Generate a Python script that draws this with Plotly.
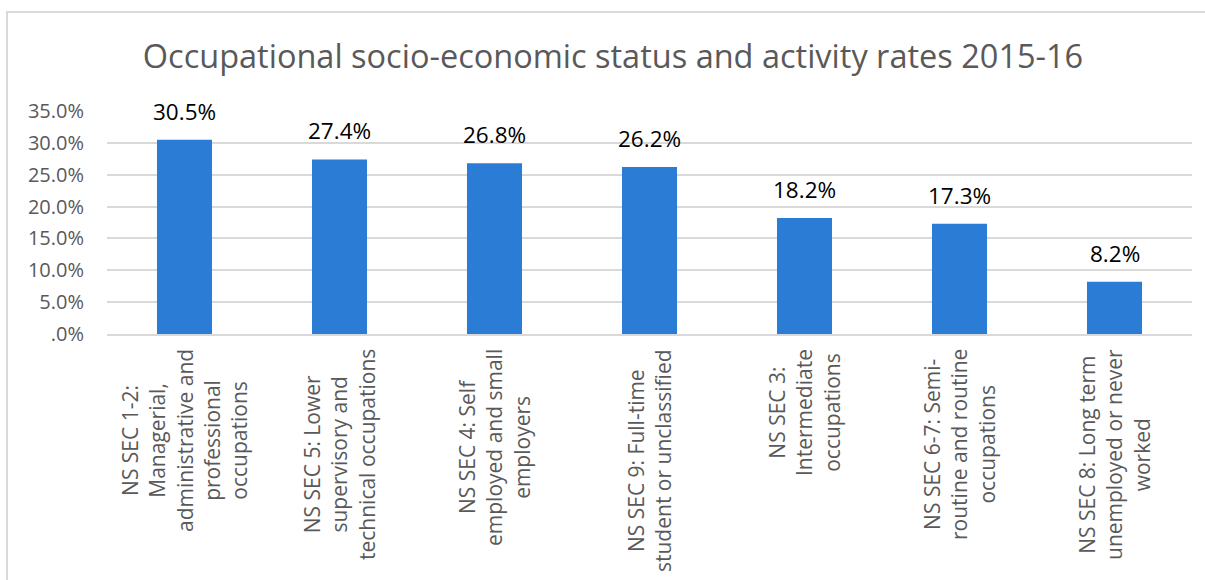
import plotly.graph_objects as go

# Category labels (line breaks as shown on the axis)
categories = [
    "NS SEC 1-2:<br>Managerial,<br>administrative and<br>professional<br>occupations",
    "NS SEC 5: Lower<br>supervisory and<br>technical occupations",
    "NS SEC 4: Self<br>employed and small<br>employers",
    "NS SEC 9: Full-time<br>student or unclassified",
    "NS SEC 3:<br>Intermediate<br>occupations",
    "NS SEC 6-7: Semi-<br>routine and routine<br>occupations",
    "NS SEC 8: Long term<br>unemployed or never<br>worked",
]
activity_rate = [30.5, 27.4, 26.8, 26.2, 18.2, 17.3, 8.2]
value_labels = ["30.5%", "27.4%", "26.8%", "26.2%", "18.2%", "17.3%", "8.2%"]

y_tick_vals = [0, 5, 10, 15, 20, 25, 30, 35]
y_tick_text = [".0%", "5.0%", "10.0%", "15.0%", "20.0%", "25.0%", "30.0%", "35.0%"]

title_text = "Occupational socio-economic status and activity rates 2015-16"

FONT = "Open Sans"
W, H = 1205, 580
L, R, T, B = 107, 13, 111, 246
plot_w = W - L - R
plot_h = H - T - B

x_idx = list(range(len(categories)))

fig = go.Figure()
fig.add_trace(go.Bar(
    x=x_idx,
    y=activity_rate,
    marker=dict(color="#2B7CD5", line=dict(width=0)),
    width=0.355,
    hoverinfo="skip",
))

annotations = []
# value labels above the bars
for i, (v, lab) in enumerate(zip(activity_rate, value_labels)):
    annotations.append(dict(
        x=i, y=v, xref="x", yref="y", text=lab, showarrow=False,
        yanchor="bottom", xanchor="center", yshift=11,
        font=dict(family=FONT, size=22.5, color="#000000"),
    ))
# rotated category labels below the axis
for i, cat in enumerate(categories):
    annotations.append(dict(
        x=i, y=0, xref="x", yref="y", text=cat, showarrow=False,
        textangle=-90, align="center", xanchor="center", yanchor="top",
        yshift=-13,
        font=dict(family=FONT, size=21, color="#595959"),
    ))


def px_x(p):
    return (p - L) / plot_w


def px_y(p):
    return (H - B - p) / plot_h


fig.update_layout(
    width=W, height=H,
    margin=dict(l=L, r=R, t=T, b=B),
    paper_bgcolor="white",
    plot_bgcolor="white",
    showlegend=False,
    title=dict(
        text=title_text,
        x=613 / W, xref="container", xanchor="center",
        y=1 - 57 / H, yref="container", yanchor="middle",
        font=dict(family=FONT, size=32.5, color="#595959"),
    ),
    xaxis=dict(
        range=[-0.5, len(categories) - 0.5],
        showticklabels=False, showgrid=False, zeroline=False,
        showline=True, linecolor="#D9D9D9", linewidth=2, ticks="",
        fixedrange=True,
    ),
    yaxis=dict(
        range=[0, 35],
        tickvals=y_tick_vals, ticktext=y_tick_text,
        tickfont=dict(family=FONT, size=20, color="#595959"),
        showgrid=True, gridcolor="#D9D9D9", gridwidth=2,
        zeroline=False, showline=False, ticks="",
        ticklabelstandoff=22,
        fixedrange=True,
    ),
    annotations=annotations,
    shapes=[dict(
        type="rect", xref="paper", yref="paper",
        x0=px_x(7), x1=px_x(1216), y0=px_y(600), y1=px_y(12),
        line=dict(color="#D9D9D9", width=2), fillcolor="rgba(0,0,0,0)",
        layer="below",
    )],
)

fig.write_html("out.html")
